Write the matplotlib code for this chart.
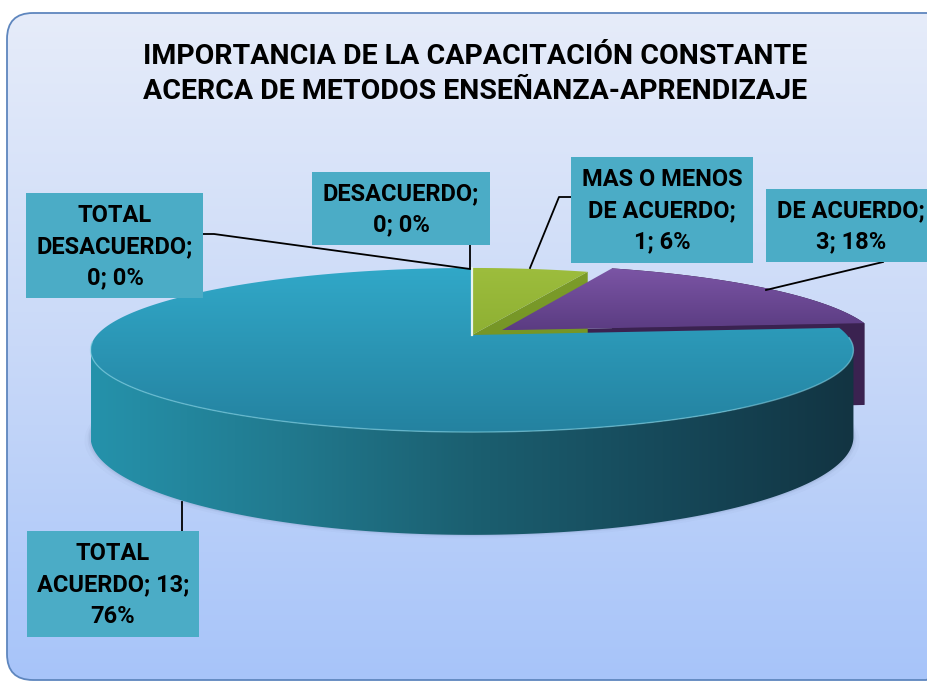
import numpy as np
import matplotlib.pyplot as plt
from matplotlib.patches import Polygon, Rectangle, FancyBboxPatch
from matplotlib.colors import LinearSegmentedColormap

# data
categories = ["TOTAL DESACUERDO", "DESACUERDO", "MAS O MENOS DE ACUERDO", "DE ACUERDO", "TOTAL ACUERDO"]
values = [0, 0, 1, 3, 13]
label_fmt = ["TOTAL\nDESACUERDO;\n{v}; {p}%",
             "DESACUERDO;\n{v}; {p}%",
             "MAS O MENOS\nDE ACUERDO;\n{v}; {p}%",
             "DE ACUERDO;\n{v}; {p}%",
             "TOTAL\nACUERDO; {v};\n{p}%"]
title = "IMPORTANCIA DE LA CAPACITACIÓN CONSTANTE\nACERCA DE METODOS ENSEÑANZA-APRENDIZAJE"

# styling
top_cols = [None, None, ("#9DBD3D", "#8EB033"), ("#7B55A5", "#5B3C82"), ("#31A8C8", "#2482A0")]
side_cols = [None, None, ["#7C9C2A", "#6E8E22"], ["#2C1838", "#2C1838"],
             ["#2592AB", "#217A8F", "#1B5F70", "#16495A", "#123442"]]
explode = [0, 0, 0, 0.1, 0]
box_pos = [(26, 193, 203, 298), (312, 172, 490, 245), (571, 157, 753, 263),
           (766, 189, 945, 262), (27, 531, 199, 637)]
text_x = [115, 401, 662, 851, 113]
leaders = [[(203, 234), (214, 234), (470, 269)], [(470, 245), (470, 268)],
           [(571, 197), (559, 197), (530, 268)], [(883, 262), (766, 290)],
           [(182, 531), (182, 502)]]
FONT = ["Roboto", "DejaVu Sans"]

# 3d pie projection (pixels)
CX, CY, RX, RY, K, D = 472, 335, 375, 79.3, 0.183, 84
SIL = np.degrees(np.arcsin(K))  # silhouette angle offset


def proj(t, off=(0, 0), z=0, r=1.0):
    t = np.radians(t)
    u = r * np.cos(t) + off[0]
    v = r * np.sin(t) + off[1]
    s = 1.0 / (1 + K * v)
    return np.column_stack([CX + RX * u * s, CY - RY * v * s + z * D * s])


def grad_fill(ax, verts, colors, horizontal=False, z=1):
    verts = np.asarray(verts)
    x0, x1 = verts[:, 0].min(), verts[:, 0].max()
    y0, y1 = verts[:, 1].min(), verts[:, 1].max()
    cmap = LinearSegmentedColormap.from_list("g", colors)
    arr = np.linspace(0, 1, 256)
    arr = arr.reshape(1, -1) if horizontal else arr.reshape(-1, 1)
    im = ax.imshow(arr, cmap=cmap, extent=(x0, x1, y1, y0), origin="upper",
                   aspect="auto", zorder=z, interpolation="bilinear")
    poly = Polygon(verts, closed=True, facecolor="none", edgecolor="none", zorder=z)
    ax.add_patch(poly)
    im.set_clip_path(poly)


fig = plt.figure(figsize=(9.27, 6.81), dpi=100)
ax = fig.add_axes([0, 0, 1, 1])
ax.set_xlim(0, 927)
ax.set_ylim(681, 0)
ax.axis("off")

# chart area background
bg = FancyBboxPatch((7, 13), 945, 667, boxstyle="round,pad=0,rounding_size=26",
                    facecolor="none", edgecolor="#5E86BE", lw=1.3, zorder=3)
ax.add_patch(bg)
im = ax.imshow(np.linspace(0, 1, 256).reshape(-1, 1),
               cmap=LinearSegmentedColormap.from_list("bg", ["#E6ECFA", "#C9D9F8", "#A7C4FA"]),
               extent=(7, 952, 680, 13), origin="upper", aspect="auto", zorder=0)
im.set_clip_path(bg)

total = sum(values)
angles = []
a = 90.0
for v in values:
    angles.append((a, a - v * 360.0 / total))
    a -= v * 360.0 / total
offs = []
for (t0, t1), e in zip(angles, explode):
    mid = np.radians((t0 + t1) / 2)
    offs.append((e * np.cos(mid), e * np.sin(mid)))

# soft shadow under the pie
for grow, al in [(6, 0.025), (3, 0.04), (1.5, 0.05)]:
    sh = proj(np.linspace(0, 360, 200), z=1)
    sh[:, 1] += grow * 0.6
    sh[:, 0] = CX + (sh[:, 0] - CX) * (1 + grow / 380)
    ax.add_patch(Polygon(sh, closed=True, facecolor="#1A2A50", edgecolor="none",
                         alpha=al, zorder=1))

# purple (exploded) side and cut face
t0, t1 = angles[3]
o = offs[3]
ts = np.linspace(t1, t0, 80)
side = np.vstack([proj(ts, o), proj(ts[::-1], o, z=1)])
ax.add_patch(Polygon(side, closed=True, facecolor="#2B1737", edgecolor="none", zorder=2))
cut = np.vstack([proj([0], o, r=0), proj([t1], o), proj([t1], o, z=1), proj([0], o, z=1, r=0)])
ax.add_patch(Polygon(cut, closed=True, facecolor="#3A2250", edgecolor="none", zorder=2))

# green cut face towards purple
t0, t1 = angles[2]
o = offs[2]
cut = np.vstack([proj([0], o, r=0), proj([t1], o), proj([t1], o, z=1), proj([0], o, z=1, r=0)])
grad_fill(ax, cut, side_cols[2], z=2)

# teal front side (between the two silhouette points)
o = offs[4]
ts = np.linspace(-180 + SIL, -SIL, 240)
side = np.vstack([proj(ts, o), proj(ts[::-1], o, z=1)])
grad_fill(ax, side, side_cols[4], horizontal=True, z=3)

# top faces
for i in [2, 3, 4]:
    t0, t1 = angles[i]
    o = offs[i]
    ts = np.linspace(t0, t1, 240)
    top = np.vstack([proj([0], o, r=0), proj(ts, o)])
    grad_fill(ax, top, top_cols[i], z=4)

# rim highlight and edge highlight
rim = proj(np.linspace(-175, -2, 200))
ax.plot(rim[:, 0], rim[:, 1], color="#7FD0E0", lw=1.0, alpha=0.6, zorder=5)
edge = np.vstack([proj([0], r=0), proj([90])])
ax.plot(edge[:, 0], edge[:, 1], color="#E8F4F0", lw=1.6, zorder=5)

# leader lines
for pts in leaders:
    pts = np.array(pts)
    ax.plot(pts[:, 0], pts[:, 1], color="black", lw=1.3, zorder=6)

# data labels
for i, (cat, v) in enumerate(zip(categories, values)):
    x0, y0, x1, y1 = box_pos[i]
    ax.add_patch(Rectangle((x0, y0), x1 - x0, y1 - y0, facecolor="#4BACC6",
                           edgecolor="none", zorder=7))
    txt = label_fmt[i].format(v=v, p=round(v * 100 / total))
    ax.text(text_x[i], (y0 + y1) / 2 + 1, txt, ha="center", va="center",
            fontsize=17, fontweight="bold", family=FONT,
            linespacing=1.45, color="black", zorder=8)

ax.text(475, 74, title, ha="center", va="center", fontsize=20.5, fontweight="bold",
        family=FONT, linespacing=1.35, zorder=8)

fig.savefig("out.png", dpi=100)
